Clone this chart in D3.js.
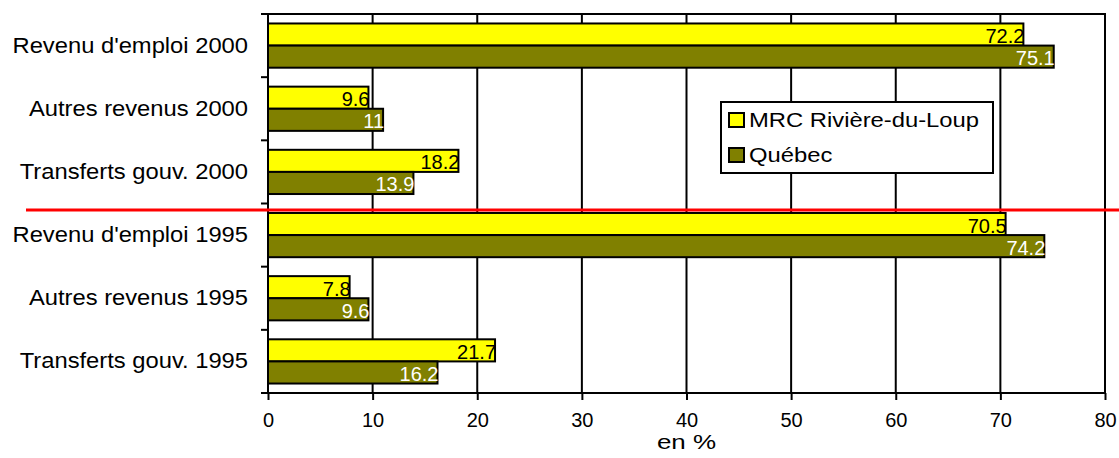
<!DOCTYPE html>
<html>
<head>
<meta charset="utf-8">
<script src="https://cdn.jsdelivr.net/npm/d3@7"></script>
<style>
  html, body { margin: 0; padding: 0; background: #fff; }
  svg { display: block; }
  text { font-family: "Liberation Sans", Arial, sans-serif; }
</style>
</head>
<body>
<svg id="chart" width="1119" height="458"></svg>
<script>
const categories = [
  "Revenu d'emploi 2000",
  "Autres revenus 2000",
  "Transferts gouv. 2000",
  "Revenu d'emploi 1995",
  "Autres revenus 1995",
  "Transferts gouv. 1995"
];
const seriesNames = ["MRC Rivière-du-Loup", "Québec"];
const mrcValues = [72.2, 9.6, 18.2, 70.5, 7.8, 21.7];
const quebecValues = [75.1, 11, 13.9, 74.2, 9.6, 16.2];
const xTicks = [0, 10, 20, 30, 40, 50, 60, 70, 80];
const xTitle = "en %";
const separatorBefore = "Revenu d'emploi 1995";

const colors = ["#ffff00", "#808000"];
const labelColors = ["#000", "#fff"];

const svg = d3.select("#chart");
const pLeft = 268, pRight = 1105, pTop = 14, pBottom = 393;

const x = d3.scaleLinear().domain([0, 80]).range([pLeft, pRight]);
const y = d3.scaleBand().domain(categories).range([pTop, pBottom])
  .paddingInner(0.3).paddingOuter(0.15);
const ySub = d3.scaleBand().domain(seriesNames).range([0, y.bandwidth()]);

const data = categories.map((c, i) => ({
  cat: c,
  vals: [
    { s: seriesNames[0], v: mrcValues[i], k: 0 },
    { s: seriesNames[1], v: quebecValues[i], k: 1 }
  ]
}));

// gridlines
svg.append("g").selectAll("line").data(xTicks.filter(t => t > 0 && t < 80)).join("line")
  .attr("x1", d => x(d)).attr("x2", d => x(d))
  .attr("y1", pTop).attr("y2", pBottom)
  .attr("stroke", "#000").attr("stroke-width", 2);

// frame
svg.append("rect").attr("x", pLeft).attr("y", pTop)
  .attr("width", pRight - pLeft).attr("height", pBottom - pTop)
  .attr("fill", "none").attr("stroke", "#000").attr("stroke-width", 2);

// bars
const groups = svg.append("g").selectAll("g").data(data).join("g")
  .attr("transform", d => `translate(0,${y(d.cat)})`);
groups.selectAll("rect").data(d => d.vals).join("rect")
  .attr("x", x(0))
  .attr("y", d => ySub(d.s))
  .attr("width", d => x(d.v) - x(0))
  .attr("height", ySub.bandwidth())
  .attr("fill", d => colors[d.k])
  .attr("stroke", "#000").attr("stroke-width", 2);
groups.selectAll("text").data(d => d.vals).join("text")
  .attr("x", d => x(d.v) + 1)
  .attr("y", d => ySub(d.s) + ySub.bandwidth() / 2 + 8.5)
  .attr("text-anchor", "end")
  .attr("font-size", 20)
  .attr("fill", d => labelColors[d.k])
  .text(d => d.v);

// x axis
const xAxis = svg.append("g").attr("transform", `translate(0,${pBottom})`)
  .call(d3.axisBottom(x).tickValues(xTicks).tickSize(7).tickPadding(12.5).tickFormat(d3.format("d")));
xAxis.select(".domain").remove();
xAxis.selectAll(".tick line").attr("stroke", "#000").attr("stroke-width", 2);
xAxis.selectAll(".tick text").attr("font-size", 20).attr("fill", "#000")
  .attr("font-family", "Liberation Sans, Arial, sans-serif");

svg.append("text")
  .attr("transform", `translate(${(pLeft + pRight) / 2},449) scale(1.3,1)`)
  .attr("text-anchor", "middle").attr("font-size", 20).text(xTitle);

// y axis ticks at band boundaries
const boundaries = d3.range(categories.length + 1).map(i => pTop + i * (pBottom - pTop) / categories.length);
svg.append("g").selectAll("line").data(boundaries).join("line")
  .attr("x1", pLeft - 7).attr("x2", pLeft)
  .attr("y1", d => d).attr("y2", d => d)
  .attr("stroke", "#000").attr("stroke-width", 2);

// y labels
svg.append("g").selectAll("text").data(categories).join("text")
  .attr("transform", d => `translate(248,${y(d) + y.bandwidth() / 2 + 7}) scale(1.08,1)`)
  .attr("text-anchor", "end")
  .attr("font-size", 22)
  .text(d => d);

// separator line
svg.append("line")
  .attr("x1", 26).attr("x2", 1119)
  .attr("y1", y(separatorBefore) - 3).attr("y2", y(separatorBefore) - 3)
  .attr("stroke", "#ff0000").attr("stroke-width", 3);

// legend
const lg = svg.append("g");
lg.append("rect").attr("x", 721).attr("y", 102).attr("width", 272).attr("height", 71)
  .attr("fill", "#fff").attr("stroke", "#000").attr("stroke-width", 2);
const items = lg.selectAll("g.item").data(seriesNames).join("g").attr("class", "item")
  .attr("transform", (d, i) => `translate(729,${120 + i * 35})`);
items.append("rect").attr("x", 0).attr("y", -7).attr("width", 15).attr("height", 14)
  .attr("fill", (d, i) => colors[i]).attr("stroke", "#000").attr("stroke-width", 2);
items.append("text").attr("transform", "translate(20,7) scale(1.19,1)")
  .attr("font-size", 20).text(d => d);
</script>
</body>
</html>
